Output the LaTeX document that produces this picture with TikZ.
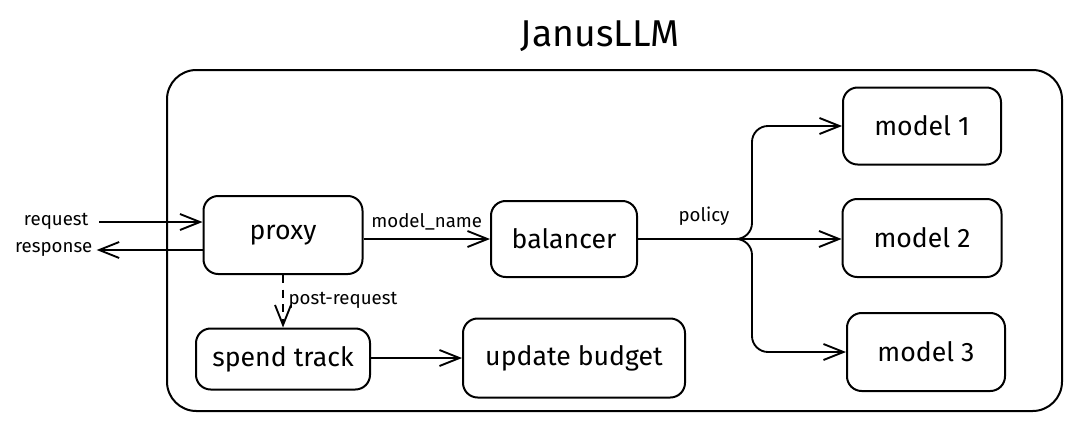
\documentclass[tikz,border=0pt]{standalone}
\usepackage{fontspec}
\setmainfont{Fira Sans}
\usetikzlibrary{arrows.meta}
\begin{document}
\begin{tikzpicture}[x=0.75pt,y=-0.75pt,
  box/.style={draw, line width=1.5pt, rounded corners=11pt, font=\fontsize{20}{24}\selectfont, inner sep=0pt},
  lbl/.style={font=\fontsize{14}{16}\selectfont, inner sep=1pt},
  arr/.style={line width=1.4pt, -{Straight Barb[length=15pt,width=12pt,line width=1.4pt]}},
  dashedarr/.style={arr, dash pattern=on 6pt off 5pt}]
\useasboundingbox (0,0) rectangle (1072,421);
% container
\draw[line width=1.5pt, rounded corners=22pt] (167,70) rectangle (1062,411);
\node[font=\fontsize{28}{32}\selectfont] (title) at (600,36) {JanusLLM};
% boxes
\node[box, minimum width=159*0.75pt, minimum height=78*0.75pt] (proxy) at (283,235) {proxy};
\node[box, minimum width=146*0.75pt, minimum height=76*0.75pt] (bal) at (564,239) {balancer};
\node[box, minimum width=158*0.75pt, minimum height=77*0.75pt] (m1) at (922,126) {model 1};
\node[box, minimum width=159*0.75pt, minimum height=78*0.75pt] (m2) at (922,238) {model 2};
\node[box, minimum width=158*0.75pt, minimum height=78*0.75pt] (m3) at (926,352) {model 3};
\node[box, minimum width=174*0.75pt, minimum height=61*0.75pt] (spend) at (283,359) {spend track};
\node[box, minimum width=222*0.75pt, minimum height=79*0.75pt] (upd) at (574,358) {update budget};
% external labels
\node[lbl, anchor=east] (req) at (90,221) {request};
\node[lbl, anchor=east] (resp) at (94,249) {response};
\draw[arr] ([xshift=7pt]req.east |- 0,222) -- (proxy.west |- 0,222);
\draw[arr] (proxy.west |- 0,250) -- ([xshift=2pt]resp.east |- 0,250);
% model_name
\draw[arr] (proxy.east |- bal.west) -- (bal.west) node[lbl, midway, above=5pt] (mn) {model\_name};
% policy
\coordinate (j) at (752,239);
\draw[arr] (bal.east) -- (m2.west |- bal.east);
\draw[arr, rounded corners=12pt] (bal.east) -- (j) |- (m1.west);
\draw[arr, rounded corners=12pt] (bal.east) -- (j) |- (m3.west);
\node[lbl] (pol) at (704,216) {policy};
% post-request
\draw[dashedarr] (proxy.south -| spend.north) -- (spend.north);
\node[lbl, anchor=west] (post) at (287,300) {post-request};
% spend -> update
\draw[arr] (spend.east |- upd.west) -- (upd.west);
\end{tikzpicture}
\end{document}
